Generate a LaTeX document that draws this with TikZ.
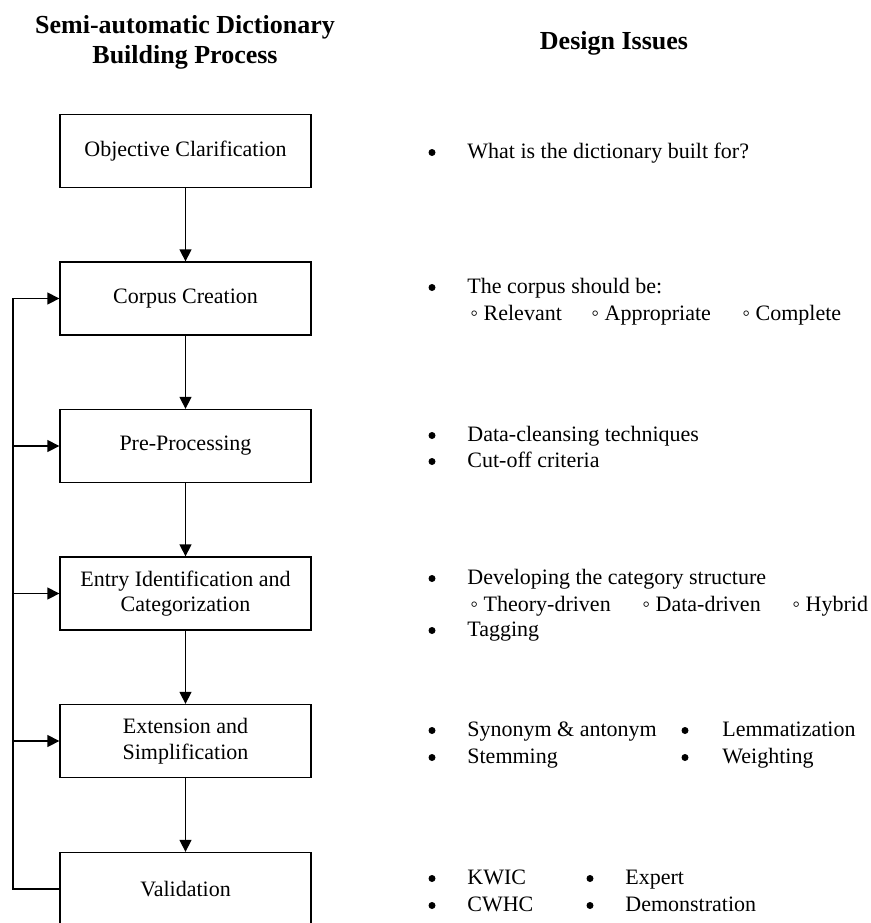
\documentclass[tikz,border=0pt]{standalone}
\usepackage{fontspec}
\setmainfont{Liberation Serif}
\usetikzlibrary{arrows.meta}

\tikzset{
  stage/.style={draw,line width=0.65pt,minimum width=125.5pt,minimum height=36.5pt,
    align=center,inner sep=2pt,font=\fontsize{11}{12.8}\selectfont},
  flow/.style={line width=0.65pt,-{Triangle[length=6pt,width=6pt]}},
  issue/.style={anchor=base west,inner sep=0pt,font=\fontsize{11}{13}\selectfont},
  dot/.style={circle,fill,inner sep=0pt,minimum size=3.5pt},
  heading/.style={align=center,font=\fontsize{13}{15}\selectfont\bfseries}
}

\begin{document}
\begin{tikzpicture}[x=0.5pt,y=-0.5pt]
  \useasboundingbox (0,0) rectangle (871,923);
  % headings
  \node[heading] (h1) at (185,42) {Semi-automatic Dictionary\\Building Process};
  \node[heading] (h2) at (614,43) {Design Issues};
  % process boxes
  \node[stage] (obj) at (185.5,151) {Objective Clarification};
  \node[stage] (cor) at (185.5,298.5) {Corpus Creation};
  \node[stage] (pre) at (185.5,446) {Pre-Processing};
  \node[stage] (ent) at (185.5,593.5) {Entry Identification and\\Categorization};
  \node[stage] (ext) at (185.5,741) {Extension and\\Simplification};
  \node[stage] (val) at (185.5,889) {Validation};
  \draw[flow] (obj) -- (cor);
  \draw[flow] (cor) -- (pre);
  \draw[flow] (pre) -- (ent);
  \draw[flow] (ent) -- (ext);
  \draw[flow] (ext) -- (val);
  % feedback loop
  \coordinate (fb) at (13,889);
  \draw[flow] (val.west) -- (fb) -- (fb |- cor.west) -- (cor.west);
  \draw[flow] (fb |- pre.west) -- (pre.west);
  \draw[flow] (fb |- ent.west) -- (ent.west);
  \draw[flow] (fb |- ext.west) -- (ext.west);
  % design issues
  \node[dot] (b1) at (432,152.5) {};
  \node[issue] (t1) at (467,158.5) {What is the dictionary built for?};
  \node[dot] (b2) at (432,287.5) {};
  \node[issue] (t2) at (467,293.5) {The corpus should be:};
  \node[issue] (s21) at (470,320.5) {◦ Relevant};
  \node[issue] (s22) at (591,320.5) {◦ Appropriate};
  \node[issue] (s23) at (742,320.5) {◦ Complete};
  \node[dot] (b3) at (432,435.5) {};
  \node[issue] (t3) at (467,441.5) {Data-cleansing techniques};
  \node[dot] (b3b) at (432,461.5) {};
  \node[issue] (t3b) at (467,467.5) {Cut-off criteria};
  \node[dot] (b4) at (432,578.5) {};
  \node[issue] (t4) at (467,584.5) {Developing the category structure};
  \node[issue] (s41) at (470,611.5) {◦ Theory-driven};
  \node[issue] (s42) at (642,611.5) {◦ Data-driven};
  \node[issue] (s43) at (792,611.5) {◦ Hybrid};
  \node[dot] (b4b) at (432,630.5) {};
  \node[issue] (t4b) at (467,636.5) {Tagging};
  \node[dot] (b5) at (432,730.5) {};
  \node[issue] (t5) at (467,736.5) {Synonym \& antonym};
  \node[dot] (b5b) at (685,730.5) {};
  \node[issue] (t5b) at (722,736.5) {Lemmatization};
  \node[dot] (b5c) at (432,757.5) {};
  \node[issue] (t5c) at (467,763.5) {Stemming};
  \node[dot] (b5d) at (685,757.5) {};
  \node[issue] (t5d) at (722,763.5) {Weighting};
  \node[dot] (b6) at (432,878.5) {};
  \node[issue] (t6) at (467,884.5) {KWIC};
  \node[dot] (b6b) at (590,878.5) {};
  \node[issue] (t6b) at (625,884.5) {Expert};
  \node[dot] (b6c) at (432,905.5) {};
  \node[issue] (t6c) at (467,911.5) {CWHC};
  \node[dot] (b6d) at (590,905.5) {};
  \node[issue] (t6d) at (625,911.5) {Demonstration};
\end{tikzpicture}
\end{document}
